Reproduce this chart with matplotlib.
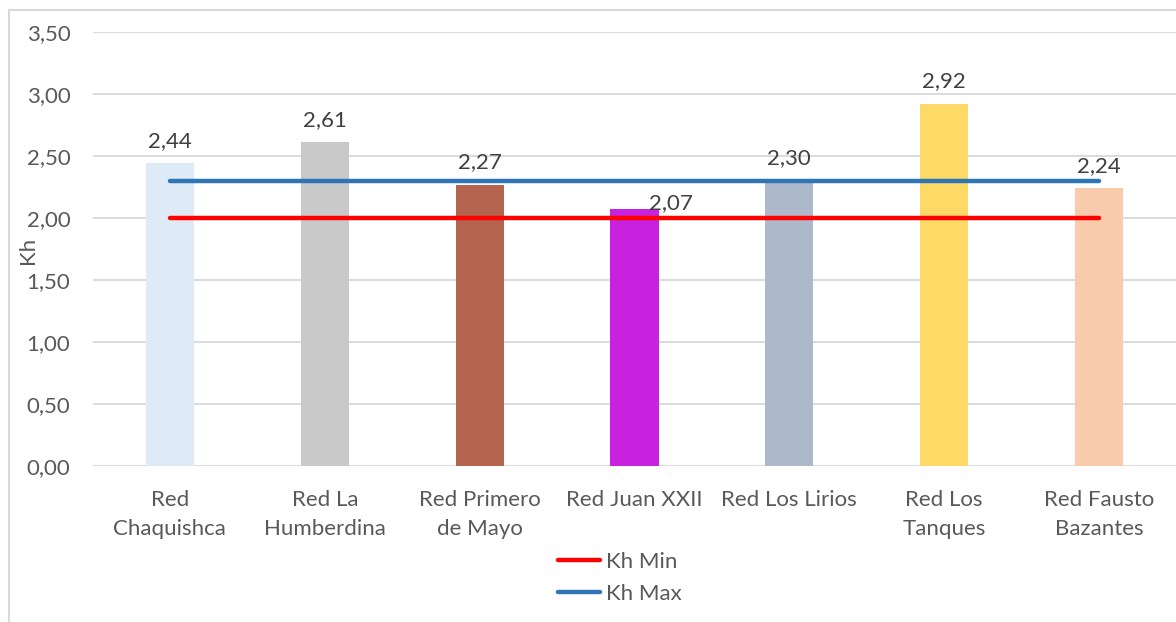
import matplotlib
matplotlib.use("Agg")
import matplotlib.pyplot as plt
from matplotlib.patches import Rectangle
from matplotlib.lines import Line2D

categories = ["Red\nChaquishca", "Red La\nHumberdina", "Red Primero\nde Mayo",
              "Red Juan XXII", "Red Los Lirios", "Red Los\nTanques", "Red Fausto\nBazantes"]
kh_values = [2.44, 2.61, 2.27, 2.07, 2.30, 2.92, 2.24]
kh_min = [2.00] * len(categories)
kh_max = [2.30] * len(categories)
y_ticks = [0.0, 0.5, 1.0, 1.5, 2.0, 2.5, 3.0, 3.5]

bar_colors = ["#DEEAF6", "#C9C9C9", "#B4644F", "#C822E0", "#ADB9CA", "#FFD966", "#F8CBAD"]
# label offsets (points); the crowded one sits beside its bar
label_offset = {3: (26, -3)}
default_offset = (0, 9)

plt.rcParams['font.family'] = ['Lato', 'DejaVu Sans']
FS = 16

W, H = 1176, 622
fig = plt.figure(figsize=(W / 100, H / 100), dpi=100)
fig.patch.set_facecolor("white")

# chart frame
fig.add_artist(Rectangle((9 / W, -0.1), 1.2, 1 - 10 / H + 0.1, transform=fig.transFigure,
                         fill=False, edgecolor="#D9D9D9", linewidth=1.5))

ax = fig.add_axes([92.5 / W, 1 - 466 / H, (1176.5 - 92.5) / W, (466 - 32) / H])
ax.set_facecolor("none")
x = list(range(len(categories)))

ax.bar(x, kh_values, width=0.31, color=bar_colors, zorder=2)
ax.plot(x, kh_min, color="#FF0000", linewidth=3.2, solid_capstyle="round", zorder=3, label="Kh Min")
ax.plot(x, kh_max, color="#2E75B6", linewidth=3.2, solid_capstyle="round", zorder=3, label="Kh Max")

for i, v in enumerate(kh_values):
    ax.annotate(f"{v:.2f}".replace(".", ","), (i, v), xytext=label_offset.get(i, default_offset),
                textcoords="offset points", ha="center", va="bottom",
                fontsize=FS, color="#404040", zorder=4)

ax.set_xlim(-0.5, len(categories) - 0.5)
ax.set_ylim(0, 3.5)
ax.set_yticks(y_ticks)
ax.set_yticklabels([f"{t:.2f}".replace(".", ",") for t in y_ticks])
ax.set_xticks(x)
ax.set_xticklabels(categories, linespacing=1.6)
ax.tick_params(axis="both", length=0, labelsize=FS, colors="#595959")
ax.tick_params(axis="x", pad=17)
ax.tick_params(axis="y", pad=16)
ax.grid(axis="y", color="#D9D9D9", linewidth=1.3, zorder=0)
for s in ax.spines.values():
    s.set_visible(False)

fig.text(28 / W, 1 - 250 / H, "Kh", rotation=90, ha="center", va="center",
         fontsize=FS, color="#595959")

handles = [Line2D([], [], color="#FF0000", linewidth=3.2, solid_capstyle="round"),
           Line2D([], [], color="#2E75B6", linewidth=3.2, solid_capstyle="round")]
fig.legend(handles, ["Kh Min", "Kh Max"], loc="center", bbox_to_anchor=(620 / W, 1 - 578 / H),
           frameon=False, fontsize=FS, labelcolor="#595959", handlelength=1.9,
           handletextpad=0.25, labelspacing=0.55)

fig.savefig("out.png", dpi=100, facecolor="white")
